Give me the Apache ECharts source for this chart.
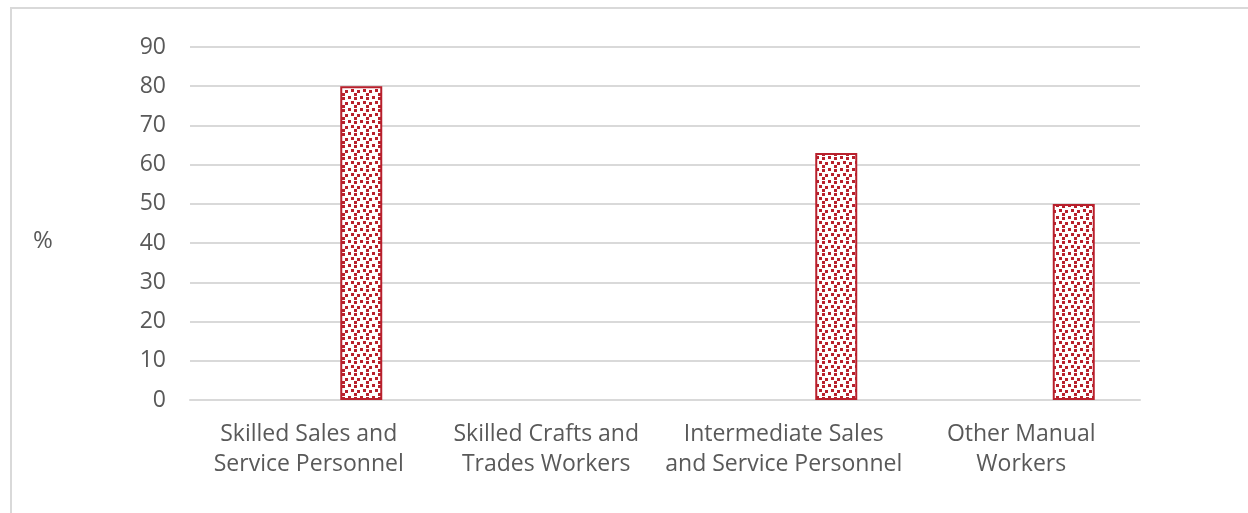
<!DOCTYPE html>
<html>
<head>
<meta charset="utf-8">
<script src="https://cdn.jsdelivr.net/npm/echarts@6/dist/echarts.min.js"></script>
<style>
  html, body { margin: 0; padding: 0; background: #ffffff; }
  #chart { width: 1248px; height: 513px; }
</style>
</head>
<body>
<div id="chart"></div>
<script>
// Occupational groups shown along the category axis
var categories = [
  'Skilled Sales and\nService Personnel',
  'Skilled Crafts and\nTrades Workers',
  'Intermediate Sales\nand Service Personnel',
  'Other Manual\nWorkers'
];
// Comparison group (no values reported) and share in %
var comparisonValues = [null, null, null, null];
var shareValues = [80, null, 63, 50];
var yTicks = { min: 0, max: 90, step: 10 };

var RED = '#b8202c';
var TEXT = '#595959';
var FONT = '"Open Sans", "DejaVu Sans", sans-serif';

// Confetti-style fill: small red squares on white
function confettiPattern() {
  var c = document.createElement('canvas');
  c.width = 12; c.height = 12;
  var g = c.getContext('2d');
  g.fillStyle = '#ffffff';
  g.fillRect(0, 0, 12, 12);
  g.fillStyle = RED;
  var squares = [[0, 0], [6, 1], [3, 5], [9, 6], [6, 9]];
  squares.forEach(function (p) { g.fillRect(p[0], p[1], 3, 3); });
  return c;
}

var chart = echarts.init(document.getElementById('chart'), null, { renderer: 'canvas' });
chart.setOption({
  backgroundColor: '#ffffff',
  animation: false,
  grid: { left: 190, right: 108, top: 47, bottom: 113, containLabel: false },
  graphic: [
    {
      type: 'rect',
      shape: { x: 11, y: 8, width: 1300, height: 600 },
      style: { fill: 'none', stroke: '#d9d9d9', lineWidth: 2 },
      silent: true, z: -1
    },
    {
      type: 'text',
      left: 33, top: 229,
      style: { text: '%', fill: TEXT, font: '24px ' + FONT }
    }
  ],
  xAxis: {
    type: 'category',
    data: categories,
    axisTick: { show: false },
    axisLine: { show: true, lineStyle: { color: '#d9d9d9', width: 2 } },
    axisLabel: {
      color: TEXT, fontFamily: FONT, fontSize: 23, lineHeight: 30,
      margin: 19, interval: 0
    }
  },
  yAxis: {
    type: 'value',
    min: yTicks.min, max: yTicks.max, interval: yTicks.step,
    axisLine: { show: false },
    axisTick: { show: false },
    splitLine: { lineStyle: { color: '#d9d9d9', width: 2 } },
    axisLabel: { color: TEXT, fontFamily: FONT, fontSize: 23, margin: 24 }
  },
  series: [
    {
      name: 'Comparison',
      type: 'bar',
      data: comparisonValues,
      barWidth: 42,
      barGap: '150%',
      itemStyle: { color: '#7f7f7f' }
    },
    {
      name: 'Share',
      type: 'bar',
      data: shareValues,
      barWidth: 42,
      barGap: '150%',
      itemStyle: {
        color: { image: confettiPattern(), repeat: 'repeat' },
        borderColor: RED,
        borderWidth: 2
      }
    }
  ]
});
</script>
</body>
</html>
